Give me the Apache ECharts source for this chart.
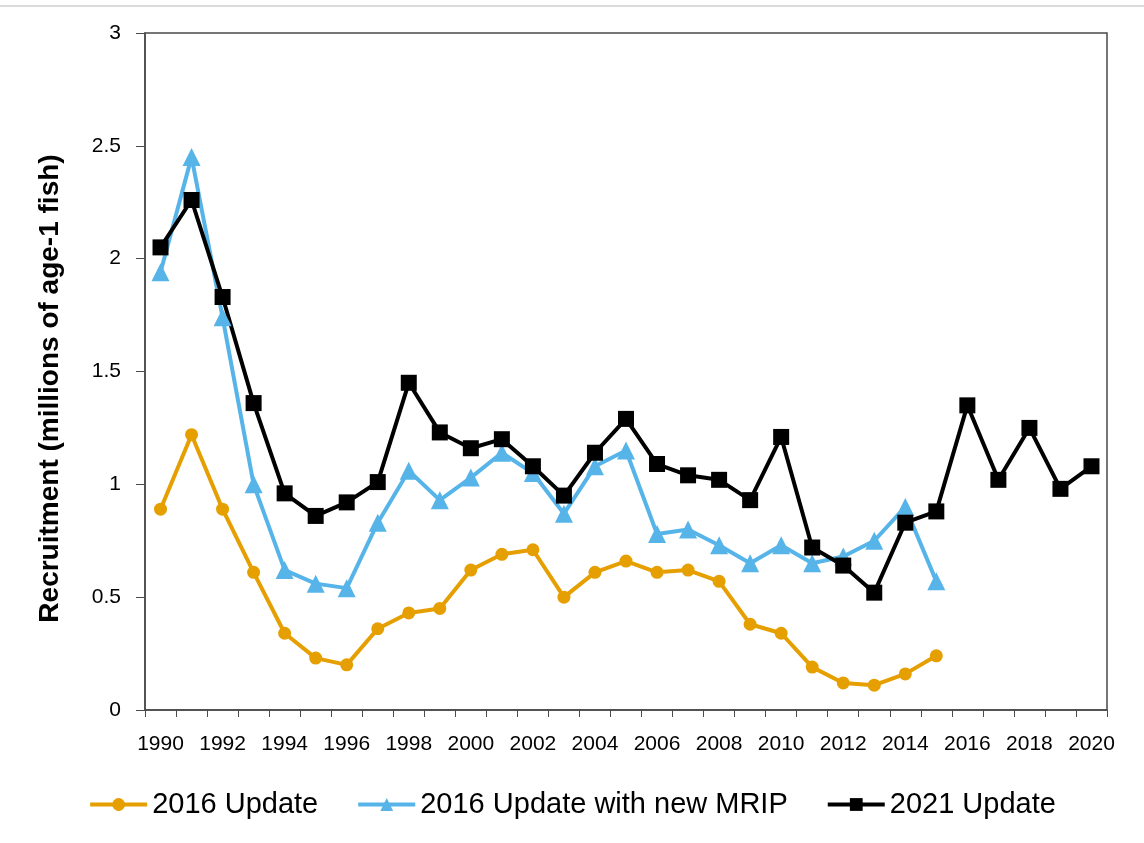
<!DOCTYPE html>
<html>
<head>
<meta charset="utf-8">
<script src="https://cdn.jsdelivr.net/npm/echarts@6/dist/echarts.min.js"></script>
<style>
  html, body { margin: 0; padding: 0; background: #fff; }
  #chart { width: 1144px; height: 843px; }
</style>
</head>
<body>
<div id="chart"></div>
<script>
// years 1990..2020
const years = [];
for (let y = 1990; y <= 2020; y++) years.push(String(y));

const update2016 = [0.89, 1.22, 0.89, 0.61, 0.34, 0.23, 0.20, 0.36, 0.43, 0.45, 0.62, 0.69, 0.71, 0.50, 0.61, 0.66, 0.61, 0.62, 0.57, 0.38, 0.34, 0.19, 0.12, 0.11, 0.16, 0.24];
const update2016Mrip = [1.94, 2.45, 1.74, 1.00, 0.62, 0.56, 0.54, 0.83, 1.06, 0.93, 1.03, 1.14, 1.05, 0.87, 1.08, 1.15, 0.78, 0.80, 0.73, 0.65, 0.73, 0.65, 0.68, 0.75, 0.90, 0.57];
const update2021 = [2.05, 2.26, 1.83, 1.36, 0.96, 0.86, 0.92, 1.01, 1.45, 1.23, 1.16, 1.20, 1.08, 0.95, 1.14, 1.29, 1.09, 1.04, 1.02, 0.93, 1.21, 0.72, 0.64, 0.52, 0.83, 0.88, 1.35, 1.02, 1.25, 0.98, 1.08];

const font = "'Liberation Sans', Arial, sans-serif";
const axisGray = '#4a4a4a';

const chart = echarts.init(document.getElementById('chart'));
chart.setOption({
  animation: false,
  textStyle: { fontFamily: font },
  grid: {
    left: 145, right: 37, top: 33, bottom: 133,
    show: true, borderColor: axisGray, borderWidth: 1.5
  },
  // thin border line at the top of the picture
  graphic: [{
    type: 'line',
    shape: { x1: 0, y1: 6, x2: 1144, y2: 6 },
    style: { stroke: '#cfcfcf', lineWidth: 1.5 }
  }],
  legend: {
    top: 785,
    left: 'center',
    itemGap: 38,
    itemWidth: 57,
    itemHeight: 16,
    lineStyle: { width: 4 },
    textStyle: { fontFamily: font, fontSize: 29, color: '#000' },
    data: ['2016 Update', '2016 Update with new MRIP', '2021 Update']
  },
  xAxis: {
    type: 'category',
    data: years,
    boundaryGap: true,
    axisLine: { lineStyle: { color: axisGray, width: 1.5 } },
    axisTick: { show: true, interval: 0, length: 7, lineStyle: { color: axisGray } },
    axisLabel: { interval: 1, color: '#000', fontSize: 21, margin: 24, fontFamily: font }
  },
  yAxis: {
    type: 'value',
    min: 0, max: 3, interval: 0.5,
    name: 'Recruitment (millions of age-1 fish)',
    nameLocation: 'middle',
    nameGap: 81,
    nameTextStyle: { fontSize: 28, fontWeight: 'bold', color: '#000', fontFamily: font, padding: [0, 34, 0, 0] },
    splitLine: { show: false },
    axisLine: { show: true, lineStyle: { color: axisGray, width: 1.5 } },
    axisTick: { show: true, length: 9, lineStyle: { color: axisGray } },
    axisLabel: { color: '#000', fontSize: 21, margin: 24, fontFamily: font }
  },
  series: [
    {
      name: '2016 Update',
      type: 'line',
      data: update2016,
      symbol: 'circle',
      symbolSize: 13,
      color: '#E69F00',
      lineStyle: { width: 4 }
    },
    {
      name: '2016 Update with new MRIP',
      type: 'line',
      data: update2016Mrip,
      symbol: 'triangle',
      symbolSize: 18,
      color: '#56B4E9',
      lineStyle: { width: 4 }
    },
    {
      name: '2021 Update',
      type: 'line',
      data: update2021,
      symbol: 'rect',
      symbolSize: 16,
      color: '#000000',
      lineStyle: { width: 4 }
    }
  ]
});
</script>
</body>
</html>
